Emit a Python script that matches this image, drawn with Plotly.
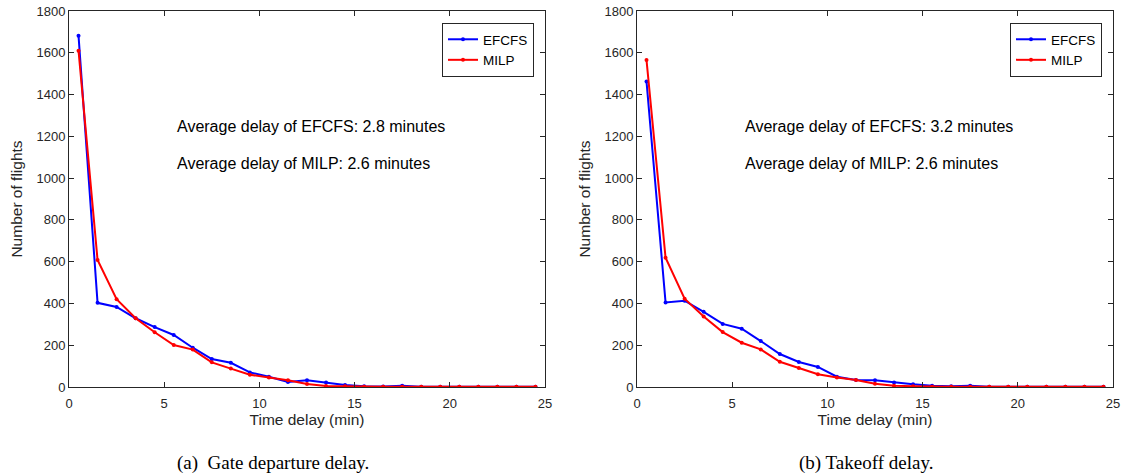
import plotly.graph_objects as go

x_delay = [0.5 + i for i in range(25)]

gate_efcfs = [1682, 403, 383, 329, 287, 249, 188, 134, 116, 70, 49, 24, 32, 21, 10, 4, 2, 6, 1, 1, 1, 1, 1, 1, 1]
gate_milp = [1610, 608, 420, 329, 262, 201, 179, 118, 88, 59, 45, 32, 14, 5, 3, 1, 1, 1, 1, 1, 1, 1, 1, 1, 1]
takeoff_efcfs = [1462, 405, 413, 360, 302, 279, 220, 158, 120, 96, 49, 34, 32, 21, 13, 6, 3, 6, 1, 1, 1, 1, 1, 1, 1]
takeoff_milp = [1565, 619, 423, 337, 263, 212, 180, 121, 91, 61, 46, 34, 16, 6, 4, 1, 1, 1, 1, 1, 1, 1, 1, 1, 1]

series_names = ["EFCFS", "MILP"]
series_colors = ["#0000FF", "#FF0000"]
avg_texts_a = ["Average delay of EFCFS: 2.8 minutes", "Average delay of MILP: 2.6 minutes"]
avg_texts_b = ["Average delay of EFCFS: 3.2 minutes", "Average delay of MILP: 2.6 minutes"]
captions = ["(a)  Gate departure delay.", "(b) Takeoff delay."]
x_title = "Time delay (min)"
y_title = "Number of flights"

# the page body margin is removed by post_script, so the figure fills the 1122x476 page
W, H = 1122, 476

def px(x):
    return x / W

def py(y):
    return 1 - y / H

fig = go.Figure()

def add_pair(xa, ya, e, m, legend):
    for name, vals, col in zip(series_names, [e, m], series_colors):
        fig.add_trace(go.Scatter(
            x=x_delay, y=vals, mode="lines+markers", name=name,
            line=dict(color=col, width=2), marker=dict(color=col, size=4),
            xaxis=xa, yaxis=ya, legend=legend))

add_pair("x", "y", gate_efcfs, gate_milp, "legend")
add_pair("x2", "y2", takeoff_efcfs, takeoff_milp, "legend2")

axcol = "#262626"
sans = "Liberation Sans, Arial, sans-serif"
tickfont = dict(family=sans, size=13, color=axcol)
titlefont = dict(family=sans, size=15.5, color=axcol)
ydom = [py(387), py(11)]

def xax(dom, anchor):
    return dict(domain=dom, anchor=anchor, range=[0, 25], tickvals=[0, 5, 10, 15, 20, 25],
                ticks="inside", ticklen=5, tickcolor=axcol, showline=True, linecolor=axcol,
                linewidth=1, mirror="ticks", showgrid=False, zeroline=False, tickfont=tickfont,
                ticklabelstandoff=4, ticklabeloverflow="allow", automargin=False,
                title=dict(text=x_title, font=titlefont, standoff=2))

def yax(anchor):
    return dict(domain=ydom, anchor=anchor, range=[0, 1800], dtick=200,
                ticks="inside", ticklen=5, tickcolor=axcol, showline=True, linecolor=axcol,
                linewidth=1, mirror="ticks", showgrid=False, zeroline=False, tickfont=tickfont,
                ticklabeloverflow="allow", automargin=False,
                title=dict(text=y_title, font=titlefont, standoff=10))

legstyle = dict(bgcolor="white", bordercolor=axcol, borderwidth=1,
                font=dict(family=sans, size=13.5, color="black"),
                xanchor="right", yanchor="top", tracegroupgap=0, itemwidth=30,
                entrywidth=62, entrywidthmode="pixels")

fig.update_layout(
    width=W, height=H, margin=dict(l=0, r=0, t=0, b=0, autoexpand=False),
    paper_bgcolor="white", plot_bgcolor="white",
    xaxis=xax([px(69), px(545)], "y"),
    yaxis=yax("x"),
    xaxis2=xax([px(637), px(1113)], "y2"),
    yaxis2=yax("x2"),
    legend=dict(x=px(534), y=py(23), **legstyle),
    legend2=dict(x=px(1102), y=py(23), **legstyle),
)

annfont = dict(family=sans, size=16, color="black")
for x0, texts in [(175, avg_texts_a), (743, avg_texts_b)]:
    for yy, t in zip([127, 163], texts):
        fig.add_annotation(x=px(x0), y=py(yy), xref="paper", yref="paper", text=t,
                           showarrow=False, xanchor="left", yanchor="middle", font=annfont)

capfont = dict(family="Liberation Serif, Times New Roman, serif", size=19, color="black")
for cx, t in zip([273, 866], captions):
    fig.add_annotation(x=px(cx), y=py(463), xref="paper", yref="paper", text=t,
                       showarrow=False, xanchor="center", yanchor="middle", font=capfont)

fig.write_html("out.html", config={"displayModeBar": False},
               post_script="document.body.style.margin='0';document.body.style.overflow='hidden';")
